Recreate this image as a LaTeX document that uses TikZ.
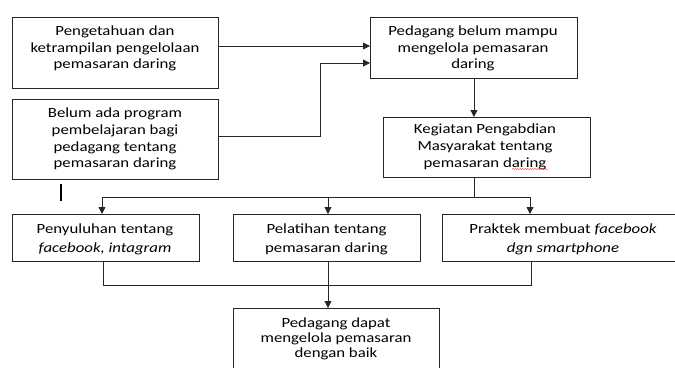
\documentclass[tikz,border=0pt]{standalone}
\usepackage{fontspec}
\setmainfont{Carlito}
\usetikzlibrary{arrows.meta,calc,decorations.pathmorphing}
\begin{document}
\begin{tikzpicture}[x=1pt,y=-1pt,
  box/.style={draw=black!85,line width=0.9pt,rectangle,inner sep=0pt,anchor=north west},
  txt/.style={align=center,inner sep=0pt,text=black,xscale=1.2,transform shape},
  arr/.style={draw=black!85,line width=0.8pt,-{Triangle[length=7pt,width=7pt]}},
  ln/.style={draw=black!85,line width=0.8pt}]
\useasboundingbox (0,0) rectangle (675,367);
% boxes
\node[box,minimum width=206pt,minimum height=71pt] (b1) at (12,17) {};
\node[box,minimum width=206pt,minimum height=80pt] (b2) at (12,99) {};
\node[box,minimum width=207pt,minimum height=61pt] (b3) at (370,17) {};
\node[box,minimum width=207pt,minimum height=60pt] (b4) at (383,117) {};
\node[box,minimum width=187pt,minimum height=47pt] (b5) at (12,214) {};
\node[box,minimum width=187pt,minimum height=47pt] (b6) at (233,214) {};
\node[box,minimum width=242pt,minimum height=47pt] (b7) at (442,214) {};
\node[box,minimum width=206pt,minimum height=75pt] (b8) at (233,308) {};
% texts
\node[txt,font=\fontsize{14}{16.5}\selectfont] (t1) at (115,48.5) {Pengetahuan dan\\ketrampilan pengelolaan\\pemasaran daring};
\node[txt,font=\fontsize{14}{16.7}\selectfont] (t2) at (115,139) {Belum ada program\\pembelajaran bagi\\pedagang tentang\\pemasaran daring};
\node[txt,font=\fontsize{14}{16.5}\selectfont] (t3) at (473,48.5) {Pedagang belum mampu\\mengelola pemasaran\\daring};
\node[txt,font=\fontsize{14}{16.7}\selectfont] (t4) at (485,147) {Kegiatan Pengabdian\\Masyarakat tentang\\pemasaran daring};
\node[txt,font=\fontsize{14}{19}\selectfont] (t5) at (105,239.5) {Penyuluhan tentang\\\textit{facebook, intagram}};
\node[txt,font=\fontsize{14}{19}\selectfont] (t6) at (326.5,239.5) {Pelatihan tentang\\pemasaran daring};
\node[txt,font=\fontsize{14}{19}\selectfont] (t7) at (563,239.5) {Praktek membuat \textit{facebook}\\\textit{dgn smartphone}};
\node[txt,font=\fontsize{14}{15}\selectfont] (t8) at (336,339) {Pedagang dapat\\mengelola pemasaran\\dengan baik};
% spell-check squiggle and cursor bar
\draw[red!80,line width=0.4pt,decorate,decoration={snake,amplitude=0.6pt,segment length=2.5pt}] (512,169) -- (548,169);
\draw[line width=1.4pt] (61,184) -- (61,201);
% connectors
\coordinate (k1) at (320,63);
\coordinate (j) at (474,197);
\coordinate (jl) at (102,197);
\coordinate (jm) at (328,197);
\coordinate (jr) at (530,197);
\coordinate (kl) at (103,285);
\coordinate (kr) at (531,285);
\draw[arr] ($(b1.north east)+(0,29)$) -- ($(b3.north west)+(0,29)$);
\draw[arr] ($(b2.north east)+(0,37)$) -| (k1) -- (b3.west |- k1);
\draw[arr] (b3.south) -- (b3.south |- b4.north);
\draw[ln] (b4.south -| j) -- (j);
\draw[ln] (jl) -- (jr);
\draw[arr] (jl) -- (jl |- b5.north);
\draw[arr] (jm) -- (jm |- b6.north);
\draw[arr] (jr) -- (jr |- b7.north);
\draw[ln] (kl |- b5.south) -- (kl) -- (kr) -- (kr |- b7.south);
\draw[arr] (b6.south -| jm) -- (jm |- b8.north);
\end{tikzpicture}
\end{document}
